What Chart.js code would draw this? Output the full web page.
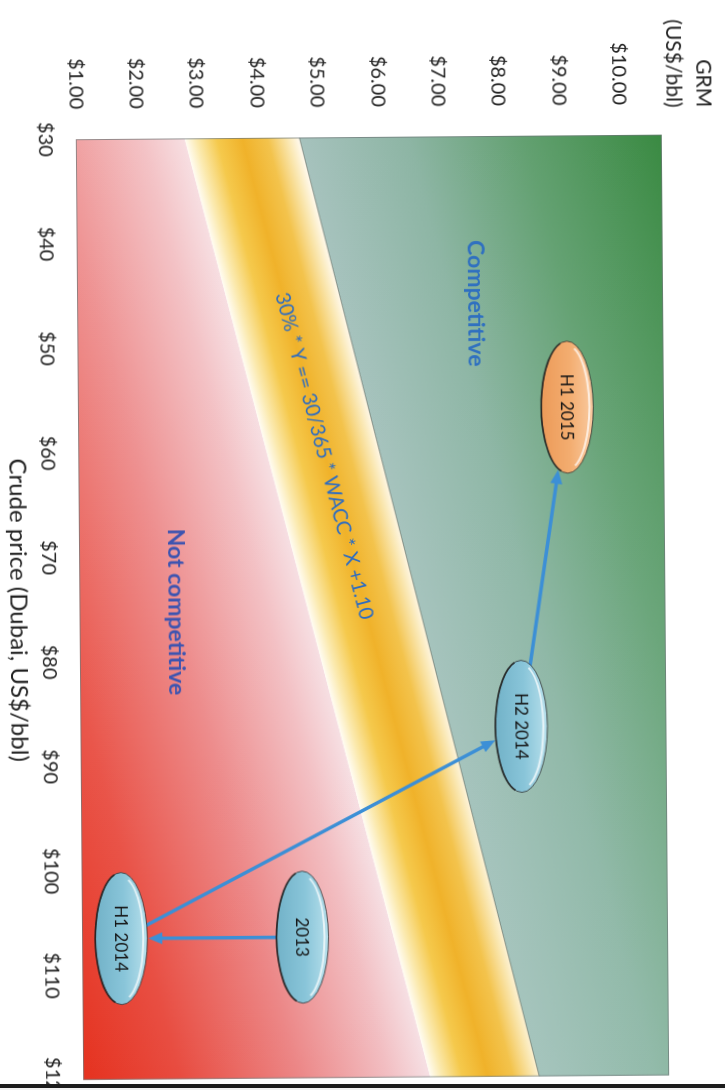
<!DOCTYPE html>
<html>
<head>
<meta charset="utf-8">
<script src="https://cdn.jsdelivr.net/npm/chart.js@4.4.1/dist/chart.umd.min.js"></script>
<style>
  html, body { margin: 0; padding: 0; background: #fff; overflow: hidden; }
  #page { position: relative; width: 725px; height: 1090px; overflow: hidden; background: #fff; }
  #tilt { position: absolute; left: 0; top: 0; width: 725px; height: 1090px; transform-origin: 362px 545px; transform: rotate(-0.45deg); }
  #turn { position: absolute; left: 0; top: 0; width: 1120px; height: 725px; transform-origin: 0 0; transform: translate(725px, 0) rotate(90deg); }
  #edge { position: absolute; left: 0; top: 1084px; width: 725px; height: 4px; background: #1c1c1c; }
  #below { position: absolute; left: 0; top: 1088px; width: 725px; height: 2px; background: #f2f2f2; }
</style>
</head>
<body>
<div id="page">
  <div id="tilt">
    <div id="turn"><canvas id="chart" width="1120" height="725"></canvas></div>
  </div>
  <div id="edge"></div>
  <div id="below"></div>
</div>
<script>
// Axis ticks
const crudeTicks = [30, 40, 50, 60, 70, 80, 90, 100, 110, 120];
const grmTicks = [1, 2, 3, 4, 5, 6, 7, 8, 9, 10];

// Refining margin positions per period
const periods = ['2013', 'H1 2014', 'H2 2014', 'H1 2015'];
const crudePrice = [106.5, 106.5, 86.5, 56];
const grmValue = [4.65, 1.65, 8.3, 9.1];

// Break-even band edges (GRM at the two ends of the crude range)
const bandCrude = [30, 120];
const bandLower = [2.8, 6.75];
const bandUpper = [4.7, 8.55];

// Zone captions
const zoneLabels = ['Competitive', 'Not competitive'];
const zoneCrude = [46, 75.3];
const zoneGrm = [7.6, 2.6];
const bandFormula = '30% * Y == 30/365 * WACC * X +1.10';
const formulaCrude = 60.5;

const grmAxisTitle = ['GRM', '(US$/bbl)'];
const crudeAxisTitle = 'Crude price (Dubai, US$/bbl)';

const FONT = 'Lato, "DejaVu Sans", sans-serif';
const TEXT = '#222222';

function pathPoly(ctx, pts) {
  ctx.beginPath();
  ctx.moveTo(pts[0].x, pts[0].y);
  for (let i = 1; i < pts.length; i++) ctx.lineTo(pts[i].x, pts[i].y);
  ctx.closePath();
}

// Coloured zones: red below the band, the band itself, green above it
const zonePlugin = {
  id: 'zones',
  beforeDatasetsDraw(chart) {
    const { ctx, chartArea: a, scales: { x, y } } = chart;
    const P = (c, g) => ({ x: x.getPixelForValue(c), y: y.getPixelForValue(g) });
    const lo0 = P(bandCrude[0], bandLower[0]), lo1 = P(bandCrude[1], bandLower[1]);
    const up0 = P(bandCrude[0], bandUpper[0]), up1 = P(bandCrude[1], bandUpper[1]);
    const dx = lo1.x - lo0.x, dy = lo1.y - lo0.y, len = Math.hypot(dx, dy);
    const n = { x: dy / len, y: -dx / len }; // points toward higher GRM
    const dist = (p, o) => (p.x - o.x) * n.x + (p.y - o.y) * n.y;

    ctx.save();
    ctx.beginPath();
    ctx.rect(a.left, a.top, a.width, a.height);
    ctx.clip();

    // red zone
    const rc = [P(bandCrude[0], y.min), P(bandCrude[1], y.min)];
    const dR = Math.max(...rc.map(p => -dist(p, lo0)));
    let g = ctx.createLinearGradient(lo0.x, lo0.y, lo0.x - n.x * dR, lo0.y - n.y * dR);
    g.addColorStop(0, '#f6e0e4');
    g.addColorStop(0.12, '#f2bec2');
    g.addColorStop(0.38, '#ec8686');
    g.addColorStop(0.72, '#e84c40');
    g.addColorStop(1, '#e5321f');
    pathPoly(ctx, [lo0, lo1, rc[1], rc[0]]);
    ctx.fillStyle = g;
    ctx.fill();
    let h = ctx.createLinearGradient(a.left, 0, a.right, 0);
    h.addColorStop(0, 'rgba(250,215,215,0.2)');
    h.addColorStop(1, 'rgba(250,215,215,0)');
    ctx.fillStyle = h;
    ctx.fill();

    // green zone
    const gc = [P(bandCrude[0], y.max), P(bandCrude[1], y.max)];
    const dG = Math.max(...gc.map(p => dist(p, up0)));
    g = ctx.createLinearGradient(up0.x, up0.y, up0.x + n.x * dG, up0.y + n.y * dG);
    g.addColorStop(0, '#a6c2bd');
    g.addColorStop(0.3, '#8db5a4');
    g.addColorStop(0.62, '#62a070');
    g.addColorStop(1, '#3a8a42');
    pathPoly(ctx, [up0, up1, gc[1], gc[0]]);
    ctx.fillStyle = g;
    ctx.fill();
    h = ctx.createLinearGradient(a.left, 0, a.right, 0);
    h.addColorStop(0, 'rgba(160,200,185,0)');
    h.addColorStop(1, 'rgba(160,200,185,0.3)');
    ctx.fillStyle = h;
    ctx.fill();

    // band
    const w = dist(up0, lo0);
    g = ctx.createLinearGradient(lo0.x, lo0.y, lo0.x + n.x * w, lo0.y + n.y * w);
    g.addColorStop(0, '#fffcf2');
    g.addColorStop(0.1, '#fbeab0');
    g.addColorStop(0.28, '#f5c94c');
    g.addColorStop(0.5, '#f0b22a');
    g.addColorStop(0.72, '#f3c34c');
    g.addColorStop(0.9, '#fae8b4');
    g.addColorStop(1, '#fffaf0');
    pathPoly(ctx, [lo0, lo1, up1, up0]);
    ctx.fillStyle = g;
    ctx.fill();

    ctx.beginPath();
    ctx.moveTo(up0.x, up0.y);
    ctx.lineTo(up1.x, up1.y);
    ctx.strokeStyle = 'rgba(70,80,70,0.55)';
    ctx.lineWidth = 1;
    ctx.stroke();

    // formula along the band
    const f = (formulaCrude - bandCrude[0]) / (bandCrude[1] - bandCrude[0]);
    const fLo = bandLower[0] + (bandLower[1] - bandLower[0]) * f;
    const fUp = bandUpper[0] + (bandUpper[1] - bandUpper[0]) * f;
    const fp = P(formulaCrude, (fLo + fUp) / 2);
    ctx.save();
    ctx.translate(fp.x, fp.y);
    ctx.rotate(Math.atan2(dy, dx));
    ctx.font = '20px ' + FONT;
    ctx.fillStyle = '#2c6cc2';
    ctx.textAlign = 'center';
    ctx.textBaseline = 'middle';
    ctx.fillText(bandFormula, 0, 0);
    ctx.restore();

    // zone captions
    ctx.font = 'bold 23px ' + FONT;
    ctx.textAlign = 'center';
    ctx.textBaseline = 'middle';
    const capColors = ['#2f70c0', '#3d54b0'];
    zoneLabels.forEach((t, i) => {
      const p = P(zoneCrude[i], zoneGrm[i]);
      ctx.fillStyle = capColors[i];
      ctx.fillText(t, p.x, p.y);
    });

    ctx.restore();

    // plot frame
    ctx.save();
    ctx.strokeStyle = 'rgba(110,120,120,0.7)';
    ctx.lineWidth = 1;
    ctx.strokeRect(a.left + 0.5, a.top + 0.5, a.width - 1, a.height - 1);
    ctx.restore();
  }
};

function drawArrow(ctx, x0, y0, x1, y1) {
  const ang = Math.atan2(y1 - y0, x1 - x0);
  const hl = 14, hw = 6;
  const bx = x1 - Math.cos(ang) * hl, by = y1 - Math.sin(ang) * hl;
  ctx.save();
  ctx.strokeStyle = '#3c8fd6';
  ctx.fillStyle = '#3c8fd6';
  ctx.lineWidth = 3.5;
  ctx.lineCap = 'round';
  ctx.beginPath();
  ctx.moveTo(x0, y0);
  ctx.lineTo(bx, by);
  ctx.stroke();
  ctx.beginPath();
  ctx.moveTo(x1, y1);
  ctx.lineTo(bx + Math.sin(ang) * hw, by - Math.cos(ang) * hw);
  ctx.lineTo(bx - Math.sin(ang) * hw, by + Math.cos(ang) * hw);
  ctx.closePath();
  ctx.fill();
  ctx.restore();
}

const RX = 66, RY = 26;
function rimDistance(ux, uy) {
  return 1 / Math.sqrt((ux / RX) ** 2 + (uy / RY) ** 2);
}

function drawPill(ctx, cx, cy, text, tones) {
  ctx.save();
  ctx.beginPath();
  ctx.ellipse(cx, cy, RX, RY, 0, 0, Math.PI * 2);
  const g = ctx.createLinearGradient(cx, cy - RY, cx, cy + RY);
  g.addColorStop(0, tones[0]);
  g.addColorStop(0.45, tones[1]);
  g.addColorStop(1, tones[2]);
  ctx.fillStyle = g;
  ctx.fill();
  ctx.lineWidth = 1;
  ctx.strokeStyle = 'rgba(40,40,40,0.75)';
  ctx.stroke();
  // darker lower rim
  ctx.beginPath();
  ctx.ellipse(cx, cy, RX, RY, 0, Math.PI * 0.08, Math.PI * 0.92);
  ctx.lineWidth = 1.8;
  ctx.strokeStyle = 'rgba(30,30,30,0.8)';
  ctx.stroke();
  // gloss on upper rim
  ctx.beginPath();
  ctx.ellipse(cx, cy + 1, RX - 3, RY - 3, 0, Math.PI * 1.12, Math.PI * 1.88);
  ctx.lineWidth = 2;
  ctx.strokeStyle = 'rgba(255,255,255,0.7)';
  ctx.stroke();
  ctx.font = '17px ' + FONT;
  ctx.fillStyle = '#151515';
  ctx.textAlign = 'center';
  ctx.textBaseline = 'middle';
  ctx.fillText(text, cx, cy + 1);
  ctx.restore();
}

// Period markers joined in time order by arrows
const periodPlugin = {
  id: 'periods',
  afterDatasetsDraw(chart) {
    const { ctx } = chart;
    const pts = chart.getDatasetMeta(0).data;
    for (let i = 0; i < pts.length - 1; i++) {
      const a = pts[i], b = pts[i + 1];
      const dx = b.x - a.x, dy = b.y - a.y, L = Math.hypot(dx, dy);
      const ux = dx / L, uy = dy / L;
      const r = rimDistance(ux, uy);
      drawArrow(ctx, a.x + ux * r, a.y + uy * r, b.x - ux * (r + 1), b.y - uy * (r + 1));
    }
    const blue = ['#b6dfeb', '#89c5d9', '#72b2c8'];
    const orange = ['#f9caa0', '#f3ad70', '#ec9a58'];
    pts.forEach((p, i) => {
      drawPill(ctx, p.x, p.y, periods[i], i === periods.length - 1 ? orange : blue);
    });
  },
  afterDraw(chart) {
    const { ctx } = chart;
    ctx.save();
    ctx.font = '21px ' + FONT;
    ctx.fillStyle = TEXT;
    ctx.textAlign = 'right';
    ctx.textBaseline = 'middle';
    ctx.fillText(grmAxisTitle[0], 110, 18);
    ctx.fillText(grmAxisTitle[1], 110, 48);
    ctx.restore();
  }
};

new Chart(document.getElementById('chart'), {
  type: 'scatter',
  data: {
    datasets: [{
      label: 'GRM',
      data: periods.map((p, i) => ({ x: crudePrice[i], y: grmValue[i] })),
      pointRadius: 0,
      pointHoverRadius: 0,
      showLine: false
    }]
  },
  options: {
    responsive: false,
    animation: false,
    devicePixelRatio: 1,
    layout: { padding: { left: 0, top: 60, right: 40, bottom: 0 } },
    plugins: { legend: { display: false }, tooltip: { enabled: false } },
    scales: {
      x: {
        type: 'linear',
        min: 30,
        max: 120,
        afterBuildTicks: s => { s.ticks = crudeTicks.map(v => ({ value: v })); },
        afterFit: s => { s.height = 79; },
        grid: { display: false, drawTicks: false },
        border: { display: false },
        ticks: {
          padding: 19,
          maxRotation: 0,
          autoSkip: false,
          color: TEXT,
          font: { family: FONT, size: 20 },
          callback: v => '$' + v
        },
        title: {
          display: true,
          text: crudeAxisTitle,
          color: TEXT,
          font: { family: FONT, size: 24 },
          padding: { top: 0, bottom: 3 }
        }
      },
      y: {
        type: 'linear',
        min: 1,
        max: 10.7,
        afterBuildTicks: s => { s.ticks = grmTicks.map(v => ({ value: v })); },
        afterFit: s => { s.width = 137; },
        grid: { display: false, drawTicks: false },
        border: { display: false },
        ticks: {
          padding: 30,
          autoSkip: false,
          color: TEXT,
          font: { family: FONT, size: 20 },
          callback: v => '$' + Number(v).toFixed(2)
        }
      }
    }
  },
  plugins: [zonePlugin, periodPlugin]
});
</script>
</body>
</html>
